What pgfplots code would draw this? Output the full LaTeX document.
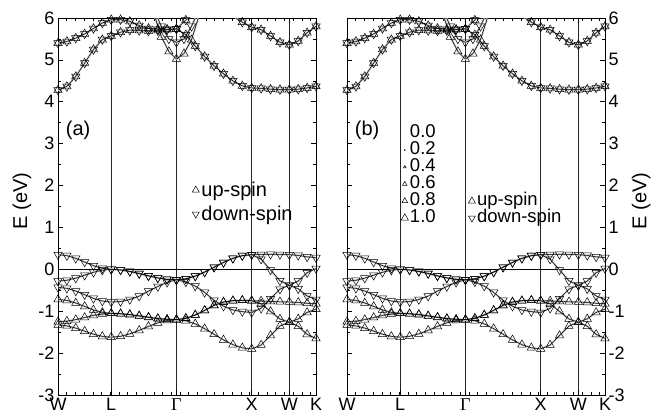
\documentclass[border=0pt]{standalone}
\usepackage{fontspec}
\setmainfont{Liberation Sans}
\newfontfamily\serifG{Liberation Serif}
\usepackage{pgfplots}
\usepackage{pgfplotstable}
\pgfplotsset{compat=1.18}

% bands along W-L-Gamma-X-W-K (E in eV)
\pgfplotstableread{
x     D1     D2     D3     U1     U2     U3     C1    C2
0     0.35   -0.28  -0.43  -0.72  -1.25  -1.33  4.28  5.40
0.118 0.327  -0.261 -0.453 -0.742 -1.237 -1.349 4.366 5.44
0.236 0.263  -0.21  -0.518 -0.803 -1.2   -1.403 4.603 5.52
0.354 0.175  -0.14  -0.605 -0.885 -1.15  -1.475 4.925 5.62
0.471 0.088  -0.07  -0.693 -0.968 -1.1   -1.548 5.248 5.75
0.589 0.023  -0.019 -0.757 -1.028 -1.063 -1.601 5.484 5.88
0.707 0.0    0.0    -0.78  -1.05  -1.05  -1.62  5.57  5.96
0.831 -0.013 -0.016 -0.77  -1.058 -1.062 -1.599 5.66  5.96
0.954 -0.047 -0.052 -0.72  -1.078 -1.083 -1.541 5.71  5.92
1.078 -0.097 -0.102 -0.64  -1.108 -1.115 -1.457 5.70  5.82
1.202 -0.153 -0.158 -0.52  -1.142 -1.148 -1.363 5.69  5.75
1.326 -0.203 -0.207 -0.41  -1.172 -1.178 -1.279 5.70  5.73
1.449 -0.238 -0.24  -0.31  -1.193 -1.197 -1.221 5.72  5.73
1.573 -0.25  -0.25  -0.25  -1.2   -1.2   -1.2   5.74  5.74
1.698 -0.227 -0.227 -0.30  -1.17  -1.17  -1.227 5.60  5.95
1.823 -0.162 -0.162 -0.40  -1.09  -1.09  -1.302 5.33  6.3
1.948 -0.065 -0.065 -0.55  -0.98  -0.98  -1.416 5.08  6.6
2.073 0.05   0.05   -0.74  -0.86  -0.86  -1.55  4.86  6.7
2.198 0.165  0.165  -0.88  -0.78  -0.78  -1.684 4.67  6.4
2.323 0.262  0.262  -0.97  -0.75  -0.75  -1.798 4.50  6.05
2.448 0.327  0.327  -1.01  -0.74  -0.74  -1.873 4.38  5.90
2.573 0.35   0.35   -1.03  -0.75  -0.75  -1.9   4.33  5.78
2.698 0.355  0.243  -0.93  -0.755 -0.824 -1.807 4.32  5.72
2.823 0.36   -0.015 -0.70  -0.765 -1.005 -1.58  4.30  5.57
2.948 0.355  -0.273 -0.473 -0.775 -1.186 -1.353 4.29  5.42
3.073 0.35   -0.38  -0.38  -0.78  -1.26  -1.26  4.29  5.36
3.191 0.333  -0.28  -0.465 -0.79  -1.183 -1.358 4.30  5.45
3.309 0.298  -0.08  -0.635 -0.81  -1.028 -1.553 4.33  5.65
3.427 0.28   0.02   -0.72  -0.82  -0.95  -1.65  4.37  5.80
}\bands

\pgfplotstableread{
x     Vu    Vd
1.273 6.10  6.20
1.373 5.55  5.80
1.473 5.20  5.50
1.573 5.02  5.42
1.673 5.15  5.50
1.773 5.48  5.80
1.873 6.05  6.20
}\vbands

\newcommand{\shadow}[2]{\addplot[gray!50, line width=1.8pt, forget plot] table[x=x,y=#2]{#1};}
\newcommand{\upband}[2]{\addplot[black, line width=0.5pt, mark=triangle, mark size=4.8pt, mark options={solid, line width=0.5pt}, forget plot] table[x=x,y=#2]{#1};}
\newcommand{\dnband}[2]{\addplot[black, line width=0.5pt, mark=triangle, mark size=4.8pt, mark options={solid, line width=0.5pt, rotate=180}, forget plot] table[x=x,y=#2]{#1};}
\newcommand{\dnmarks}[2]{\addplot[black, only marks, mark=triangle, mark size=4.8pt, mark options={solid, line width=0.5pt, rotate=180}, forget plot] table[x=x,y=#2]{#1};}

\newcommand{\drawbands}{%
  \addplot[black, line width=0.6pt, forget plot] coordinates {(0,0) (3.427,0)};
  \shadow{\bands}{D1}\shadow{\bands}{D2}\shadow{\bands}{D3}
  \shadow{\bands}{U1}\shadow{\bands}{U2}\shadow{\bands}{U3}
  \shadow{\bands}{C1}\shadow{\bands}{C2}
  \shadow{\vbands}{Vu}\shadow{\vbands}{Vd}
  \dnband{\bands}{D1}\dnband{\bands}{D2}\dnband{\bands}{D3}
  \upband{\bands}{U1}\upband{\bands}{U2}\upband{\bands}{U3}
  \upband{\bands}{C1}\dnmarks{\bands}{C1}
  \upband{\bands}{C2}\dnmarks{\bands}{C2}
  \upband{\vbands}{Vu}\dnband{\vbands}{Vd}
}

\pgfplotsset{bandaxis/.style={
  scale only axis, width=258pt, height=377pt,
  xmin=0, xmax=3.427, ymin=-3, ymax=6,
  xtick={0,0.707,1.573,2.573,3.073,3.427},
  xticklabels={W,L,{\serifG Γ},X,W,K},
  ytick={-3,-2,-1,0,1,2,3,4,5,6},
  yticklabels={-3,-2,-1,0,1,2,3,4,5,6},
  minor y tick num=1,
  minor xtick={0.1157,0.2314,...,3.40},
  xmajorgrids, major grid style={black!85, line width=0.5pt},
  axis line style={line width=0.8pt},
  major tick length=5pt, minor tick length=3pt,
  every tick/.style={black, line width=0.6pt},
  tick label style={font=\fontsize{18}{18}\selectfont},
  /pgf/number format/assume math mode=true,
  ylabel={E (eV)}, label style={font=\fontsize{20}{20}\selectfont},
  legend cell align=left,
  legend image code/.code={\path (-4.5pt,0pt) (4.5pt,0pt); \draw[##1] plot coordinates {(0pt,0pt)};},
}}

\begin{document}
\begin{tikzpicture}
\useasboundingbox (0,0) rectangle (668pt,418pt);
% ---------- panel (a)
\begin{axis}[bandaxis, at={(58pt,23pt)}, anchor=south west,
  ylabel style={at={(axis description cs:-0.14,0.515)}, anchor=center},
  legend style={at={(axis description cs:0.515,0.568)}, anchor=north west, draw=none, fill=none,
    font=\fontsize{20}{20}\selectfont, inner sep=0pt, row sep=6pt, nodes={inner sep=1pt}},
]
\drawbands
\addlegendimage{only marks, black, mark=triangle, mark size=4pt, mark options={solid, line width=0.5pt}}
\addlegendentry{up-spin}
\addlegendimage{only marks, black, mark=triangle, mark size=4pt, mark options={solid, line width=0.5pt, rotate=180}}
\addlegendentry{down-spin}
\node[font=\fontsize{20}{20}\selectfont] at (axis description cs:0.078,0.703) {(a)};
\end{axis}
% ---------- panel (b)
\begin{axis}[bandaxis, at={(347pt,23pt)}, anchor=south west,
  yticklabel pos=right,
  ylabel style={at={(axis description cs:1.14,0.515)}, anchor=center},
  legend columns=2,
  legend style={at={(axis description cs:0.205,0.718)}, anchor=north west, draw=none, fill=none,
    font=\fontsize{18.5}{18.5}\selectfont, inner sep=0pt, row sep=0pt,
    nodes={inner sep=0.5pt, text height=12.5pt, text depth=3.5pt},
    /tikz/every even column/.append style={column sep=31pt}},
]
\drawbands
\addlegendimage{only marks, black, mark=triangle, mark size=4pt, draw opacity=0}
\addlegendentry{0.0}
\addlegendimage{empty legend}\addlegendentry{}
\addlegendimage{only marks, black, mark=*, mark size=0.5pt}
\addlegendentry{0.2}
\addlegendimage{empty legend}\addlegendentry{}
\addlegendimage{only marks, black, mark=triangle, mark size=1.5pt, mark options={solid, line width=0.5pt}}
\addlegendentry{0.4}
\addlegendimage{empty legend}\addlegendentry{}
\addlegendimage{only marks, black, mark=triangle, mark size=2.6pt, mark options={solid, line width=0.5pt}}
\addlegendentry{0.6}
\addlegendimage{empty legend}\addlegendentry{}
\addlegendimage{only marks, black, mark=triangle, mark size=3.3pt, mark options={solid, line width=0.5pt}}
\addlegendentry{0.8}
\addlegendimage{only marks, black, mark=triangle, mark size=4pt, mark options={solid, line width=0.5pt}}
\addlegendentry{up-spin}
\addlegendimage{only marks, black, mark=triangle, mark size=4.2pt, mark options={solid, line width=0.5pt}}
\addlegendentry{1.0}
\addlegendimage{only marks, black, mark=triangle, mark size=4pt, mark options={solid, line width=0.5pt, rotate=180}}
\addlegendentry{down-spin}
\node[font=\fontsize{20}{20}\selectfont] at (axis description cs:0.078,0.703) {(b)};
\end{axis}
\end{tikzpicture}
\end{document}
